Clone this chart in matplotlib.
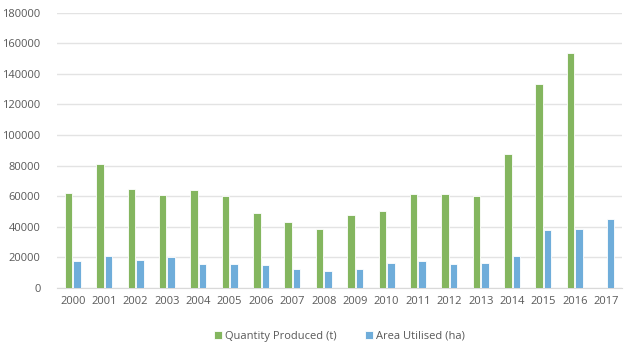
import numpy as np
import matplotlib
matplotlib.use("Agg")
import matplotlib.pyplot as plt

plt.rcParams["font.family"] = ["Open Sans", "DejaVu Sans"]

years = [str(y) for y in range(2000, 2018)]
quantity = [61800, 81000, 64600, 60900, 64100, 59800, 49000, 42900, 38500,
            47500, 50100, 61500, 61300, 59800, 87800, 133400, 153900, 0]
area = [17700, 20600, 18400, 19900, 15500, 15800, 14900, 12000, 10900,
        12000, 16200, 17300, 15800, 16400, 20600, 37600, 38800, 44700]

GREEN = "#84b65f"
BLUE = "#6fadda"
TEXT = "#595959"

fig = plt.figure(figsize=(6.34, 3.54), dpi=100)
ax = fig.add_axes([0.09, 0.187, 0.891, 0.777])

x = np.arange(len(years))
w = 0.24
ax.bar(x - 0.135, quantity, w, color=GREEN, edgecolor="white", linewidth=0.6,
       label="Quantity Produced (t)", zorder=3)
ax.bar(x + 0.135, area, w, color=BLUE, edgecolor="white", linewidth=0.6,
       label="Area Utilised (ha)", zorder=3)

ax.set_ylim(0, 180000)
ax.set_yticks(np.arange(0, 180001, 20000))
ax.set_xlim(-0.5, len(years) - 0.5)
ax.set_xticks(x)
ax.set_xticklabels(years)
ax.tick_params(axis="both", length=0, labelsize=8, colors=TEXT)
ax.tick_params(axis="y", pad=12)
ax.tick_params(axis="x", pad=6)

ax.grid(axis="y", color="#e3e3e3", linewidth=1, zorder=0)
for s in ["top", "right", "left"]:
    ax.spines[s].set_visible(False)
ax.spines["bottom"].set_color("#d9d9d9")

ax.legend(loc="upper center", bbox_to_anchor=(0.5, -0.12), ncol=2, frameon=False,
          fontsize=8, labelcolor=TEXT, handlelength=0.7, handleheight=0.7,
          handletextpad=0.3, columnspacing=2.5)

fig.savefig("out.png", dpi=100)
